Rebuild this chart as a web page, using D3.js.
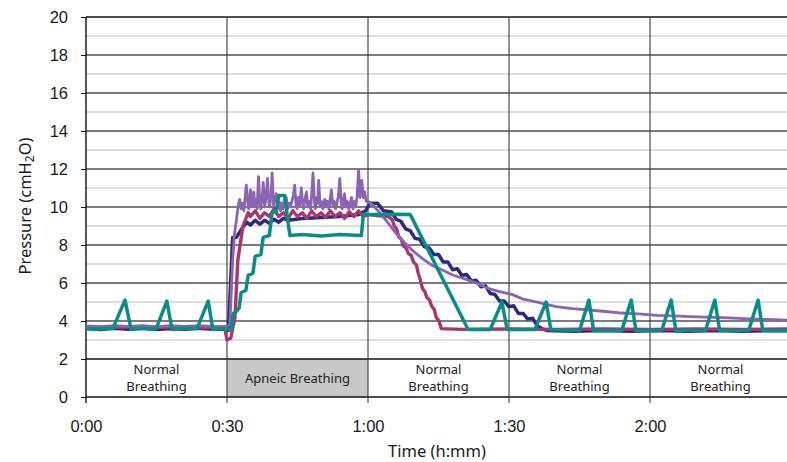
<!DOCTYPE html>
<html>
<head>
<meta charset="utf-8">
<script src="https://cdn.jsdelivr.net/npm/d3@7"></script>
<style>
  body { margin: 0; background: #fff; }
  svg { display: block; font-family: "Noto Sans", sans-serif; }
  .axis text { fill: #1a1a1a; }
</style>
</head>
<body>
<svg id="chart" width="787" height="462"></svg>
<script>
// time in seconds, pressure in cmH2O
var xTicks = [0, 30, 60, 90, 120];
var xTickLabels = ["0:00", "0:30", "1:00", "1:30", "2:00"];
var yTicks = [0, 2, 4, 6, 8, 10, 12, 14, 16, 18, 20];

var phases = [
  { start: 0, end: 30, label: ["Normal", "Breathing"], apnea: false },
  { start: 30, end: 60, label: ["Apneic Breathing"], apnea: true },
  { start: 60, end: 90, label: ["Normal", "Breathing"], apnea: false },
  { start: 90, end: 120, label: ["Normal", "Breathing"], apnea: false },
  { start: 120, end: 150, label: ["Normal", "Breathing"], apnea: false }
];

var navy = [
  [0, 3.6], [3, 3.55], [6, 3.62], [9, 3.56], [12, 3.62], [15, 3.55], [18, 3.6], [21, 3.56],
  [24, 3.62], [27, 3.56], [30, 3.58], [30.3, 3.5], [30.6, 5.1], [31.2, 8.4], [32, 8.4],
  [33, 8.8], [34.2, 9.2], [35, 9.05], [36, 9.3], [37, 9.1], [38, 9.3], [39, 9.15], [40, 9.35],
  [41, 9.2], [42, 9.4], [43, 9.3], [46, 9.4], [50, 9.45], [54, 9.5], [58, 9.6], [59.5, 9.8],
  [60.4, 10.2], [62, 10.2], [63.3, 9.8], [64.7, 9.75],
  [65, 9.75], [66, 9.35], [67, 9.25], [68, 8.85], [69, 8.75], [70, 8.35], [71, 8.3], [72, 7.9],
  [73, 7.85], [74, 7.5], [75, 7.5], [76, 7.1], [77, 7.1], [78, 6.7], [79, 6.75], [80, 6.4],
  [81, 6.45], [82, 6.1], [83, 6.15], [84, 5.8], [85, 5.85], [86, 5.45], [87, 5.4], [88, 5.05],
  [89, 5.05], [90, 4.75], [91, 4.8], [92, 4.4], [93, 4.4], [94, 4.1], [95, 4.15], [96, 3.75],
  [97, 3.6], [98, 3.5], [104, 3.46], [110, 3.5], [116, 3.46], [122, 3.5], [128, 3.46],
  [134, 3.5], [140, 3.46], [146, 3.5], [150, 3.48]
];

var magenta = [
  [0, 3.68], [5, 3.66], [10, 3.7], [15, 3.65], [20, 3.7], [25, 3.66], [29.5, 3.65], [30, 3.0],
  [30.8, 3.1], [31.7, 4.2], [32.3, 7.2], [33.4, 9.0], [34.5, 9.7], [35, 9.5], [36, 9.8],
  [37, 9.4], [38, 9.7], [39, 9.5], [40, 9.9], [41, 9.5], [42, 9.7], [43, 9.4], [44, 9.8],
  [45, 9.5], [46, 9.7], [47, 9.4], [48, 9.8], [49, 9.5], [50, 9.7], [51, 9.45], [52, 9.8],
  [53, 9.5], [54, 9.7], [55, 9.4], [56, 9.75], [57, 9.5], [58, 9.8], [59, 9.5], [60, 9.6],
  [62, 9.55], [64, 9.5], [64.6, 9.45], [65.2, 9.3], [65.6, 9.0], [66.1, 8.85], [66.5, 8.45],
  [67.1, 8.3], [67.5, 7.95], [68.1, 7.85], [68.6, 7.55], [69.2, 7.45], [69.7, 7.1],
  [70.3, 6.95], [70.7, 6.5], [71.2, 6.1], [71.6, 5.7], [72.1, 5.55], [72.5, 5.25], [73.1, 5.1],
  [73.5, 4.8], [74.1, 4.6], [74.5, 4.2], [75.1, 4.0], [75.6, 3.6], [80, 3.56], [90, 3.58],
  [100, 3.56], [110, 3.58], [120, 3.56], [130, 3.58], [140, 3.56], [150, 3.58]
];

var purple = [
  [0, 3.74], [3, 3.7], [6, 3.76], [9, 3.72], [12, 3.76], [15, 3.7], [18, 3.75], [21, 3.71],
  [24, 3.76], [27, 3.72], [30, 3.72], [30.6, 3.8], [31.2, 7.2], [31.6, 8.6], [32, 9.3],
  [32.4, 10.1], [32.7, 10.4], [33, 9.9], [33.3, 10.2], [33.6, 9.8], [34.1, 11.15], [34.4, 10.3],
  [34.6, 9.9], [35, 10.9], [35.3, 10.0], [35.7, 10.8], [35.9, 10.1], [36.2, 10.4], [36.4, 9.9],
  [36.7, 11.6], [37, 10.2], [37.2, 9.9], [37.5, 10.6], [37.7, 11.3], [38, 10.0], [38.3, 10.5],
  [38.6, 11.5], [38.9, 10.2], [39.1, 10.0], [39.4, 10.7], [39.6, 11.8], [39.9, 10.1],
  [40.2, 10.4], [40.5, 10.7], [40.8, 9.9], [41.1, 10.3], [41.4, 9.8], [41.6, 10.2], [41.9, 9.9],
  [42.2, 10.4], [42.6, 10.5], [42.9, 9.9], [43.2, 10.2], [43.5, 10.0], [43.8, 10.3],
  [44.1, 10.6], [44.4, 11.15], [44.7, 10.1], [44.9, 9.9], [45.2, 10.5], [45.5, 10.1],
  [45.8, 11.0], [46.1, 10.2], [46.3, 9.9], [46.6, 10.4], [46.9, 10.8], [47.2, 10.0],
  [47.5, 10.3], [47.8, 9.9], [48, 10.6], [48.3, 11.8], [48.6, 10.3], [48.8, 9.9], [49.1, 10.5],
  [49.3, 10.2], [49.5, 11.4], [49.8, 10.1], [50.1, 10.3], [50.4, 9.9], [50.8, 10.4],
  [51.1, 10.0], [51.4, 10.3], [51.7, 9.9], [52, 10.5], [52.2, 10.9], [52.5, 10.1], [52.8, 10.3],
  [53.1, 9.9], [53.4, 10.2], [53.7, 10.6], [54, 11.5], [54.3, 10.2], [54.5, 9.9], [54.8, 10.4],
  [55, 10.7], [55.3, 10.0], [55.6, 10.3], [55.9, 9.9], [56.2, 10.2], [56.5, 10.5], [56.8, 9.9],
  [57.1, 10.3], [57.4, 10.0], [57.7, 10.6], [58, 11.95], [58.3, 10.5], [58.5, 10.9],
  [58.7, 11.4], [59, 10.5], [59.3, 10.8], [59.6, 10.3], [60, 10.3], [61, 10.1], [62.5, 9.7],
  [64.3, 9.15], [66, 8.6], [67.9, 8.1], [69.5, 7.7], [71.5, 7.3], [73.5, 6.95], [75.7, 6.7],
  [78, 6.42], [80.6, 6.22], [83, 6.0], [85.5, 5.72], [88, 5.55], [90.6, 5.4], [93, 5.15],
  [96.2, 4.98], [100, 4.76], [103.5, 4.65], [107, 4.58], [110.5, 4.5], [114, 4.42],
  [117.5, 4.37], [121.5, 4.3], [125, 4.27], [130, 4.22], [135.5, 4.18], [140, 4.12],
  [145, 4.08], [150, 4.03]
];

var teal = [
  [0, 3.6], [2, 3.55], [4, 3.62], [5.7, 3.6], [8.3, 5.1], [9.6, 3.55], [12, 3.62], [14.9, 3.58],
  [17.2, 5.05], [18.3, 3.55], [21, 3.62], [23.6, 3.6], [26, 5.05], [27, 3.55], [29, 3.6],
  [30.9, 3.55], [31.3, 4.4], [32, 4.5], [32.6, 4.7], [33, 5.5], [34, 5.6], [34.5, 6.4],
  [35.5, 6.5], [36, 7.4], [37.2, 7.5], [37.7, 8.4], [39, 8.5], [39.6, 9.7], [40.5, 9.8],
  [41, 10.6], [42.3, 10.6], [42.8, 9.5], [43.4, 8.5], [46, 8.55], [50, 8.48], [54, 8.55],
  [58.6, 8.5], [59, 9.6], [63, 9.6], [66, 9.62], [69, 9.6], [81.3, 3.55], [86, 3.55],
  [88.5, 5.0], [89.6, 3.55], [95.5, 3.55], [97.9, 5.0], [98.9, 3.55], [105, 3.5], [107, 5.1],
  [108, 3.5], [114, 3.5], [116, 5.1], [117, 3.5], [122.5, 3.5], [124.5, 5.1], [125.5, 3.5],
  [131.8, 3.5], [133.8, 5.1], [134.8, 3.5], [141, 3.5], [143, 5.1], [144, 3.5], [150, 3.5]
];

var series = [
  { data: navy, color: "#2d2a7d", width: 3.5 },
  { data: magenta, color: "#a6386d", width: 3.4 },
  { data: purple, color: "#8a66b2", width: 2.8 },
  { data: teal, color: "#0a8d86", width: 3.5 }
];

var svg = d3.select("#chart");

var x = d3.scaleLinear().domain([0, 150]).range([86, 791]);
var y = d3.scaleLinear().domain([0, 20]).range([397, 17]);

// phase band between 0 and 2
var band = svg.append("g");
band.selectAll("rect")
  .data(phases.filter(function(d) { return d.apnea; }))
  .enter().append("rect")
  .attr("x", function(d) { return x(d.start); })
  .attr("y", y(2))
  .attr("width", function(d) { return x(d.end) - x(d.start); })
  .attr("height", y(0) - y(2))
  .attr("fill", "#c8c8c9");

// horizontal grid
var minor = d3.range(3, 20, 2);
svg.append("g").selectAll("line")
  .data(minor)
  .enter().append("line")
  .attr("x1", x(0)).attr("x2", 787)
  .attr("y1", function(d) { return y(d); })
  .attr("y2", function(d) { return y(d); })
  .attr("stroke", "#d3d3d3")
  .attr("stroke-width", 1.6);

svg.append("g").selectAll("line")
  .data(yTicks)
  .enter().append("line")
  .attr("x1", x(0)).attr("x2", 787)
  .attr("y1", function(d) { return y(d); })
  .attr("y2", function(d) { return y(d); })
  .attr("stroke", function(d) { return (d === 0 || d === 2 || d === 20) ? "#111" : "#505050"; })
  .attr("stroke-width", function(d) { return (d === 0 || d === 2 || d === 20) ? 1.4 : 1.3; });

// vertical grid down through the band
svg.append("g").selectAll("line")
  .data(xTicks)
  .enter().append("line")
  .attr("x1", function(d) { return x(d); })
  .attr("x2", function(d) { return x(d); })
  .attr("y1", y(20))
  .attr("y2", y(0) + 6)
  .attr("stroke", function(d) { return d === 0 ? "#111" : "#3a3a3a"; })
  .attr("stroke-width", function(d) { return d === 0 ? 1.4 : 1.1; });

// phase labels
var labels = band.selectAll("text")
  .data(phases)
  .enter().append("text")
  .attr("text-anchor", "middle")
  .attr("font-size", 13)
  .attr("fill", "#222")
  .attr("x", function(d) { return (x(d.start) + x(d.end)) / 2; })
  .attr("y", function(d) { return d.label.length > 1 ? 374 : 383; });
labels.selectAll("tspan")
  .data(function(d) { return d.label; })
  .enter().append("tspan")
  .attr("x", function() { return this.parentNode.getAttribute("x"); })
  .attr("dy", function(d, i) { return i === 0 ? 0 : 17; })
  .text(function(d) { return d; });

// lines
var line = d3.line()
  .x(function(d) { return x(d[0]); })
  .y(function(d) { return y(d[1]); });

svg.append("clipPath").attr("id", "plot")
  .append("rect").attr("x", x(0)).attr("y", y(20)).attr("width", 787 - x(0)).attr("height", y(0) - y(20));

svg.append("g").attr("clip-path", "url(#plot)")
  .selectAll("path")
  .data(series)
  .enter().append("path")
  .attr("d", function(d) { return line(d.data); })
  .attr("fill", "none")
  .attr("stroke", function(d) { return d.color; })
  .attr("stroke-width", function(d) { return d.width; })
  .attr("stroke-linejoin", "round");

// axes
var yAxis = svg.append("g")
  .attr("class", "axis")
  .attr("transform", "translate(" + x(0) + ",0)")
  .call(d3.axisLeft(y).tickValues(yTicks).tickSize(5).tickPadding(13));
yAxis.select(".domain").remove();
yAxis.selectAll("line").attr("stroke", "#111");
yAxis.selectAll("text").attr("font-size", 16.5);

var xAxis = svg.append("g")
  .attr("class", "axis")
  .attr("transform", "translate(0," + y(0) + ")")
  .call(d3.axisBottom(x).tickValues(xTicks).tickSize(0).tickPadding(23)
    .tickFormat(function(d, i) { return xTickLabels[i]; }));
xAxis.select(".domain").remove();
xAxis.selectAll("text").attr("font-size", 16.5);

// titles
svg.append("text")
  .attr("x", 437).attr("y", 457)
  .attr("text-anchor", "middle")
  .attr("font-size", 16.5)
  .attr("fill", "#1a1a1a")
  .text("Time (h:mm)");

var yTitle = svg.append("text")
  .attr("transform", "translate(31,206) rotate(-90)")
  .attr("text-anchor", "middle")
  .attr("font-size", 16.5)
  .attr("fill", "#1a1a1a");
yTitle.append("tspan").text("Pressure (cmH");
yTitle.append("tspan").attr("font-size", 12).attr("dy", 3).text("2");
yTitle.append("tspan").attr("dy", -3).text("O)");
</script>
</body>
</html>
